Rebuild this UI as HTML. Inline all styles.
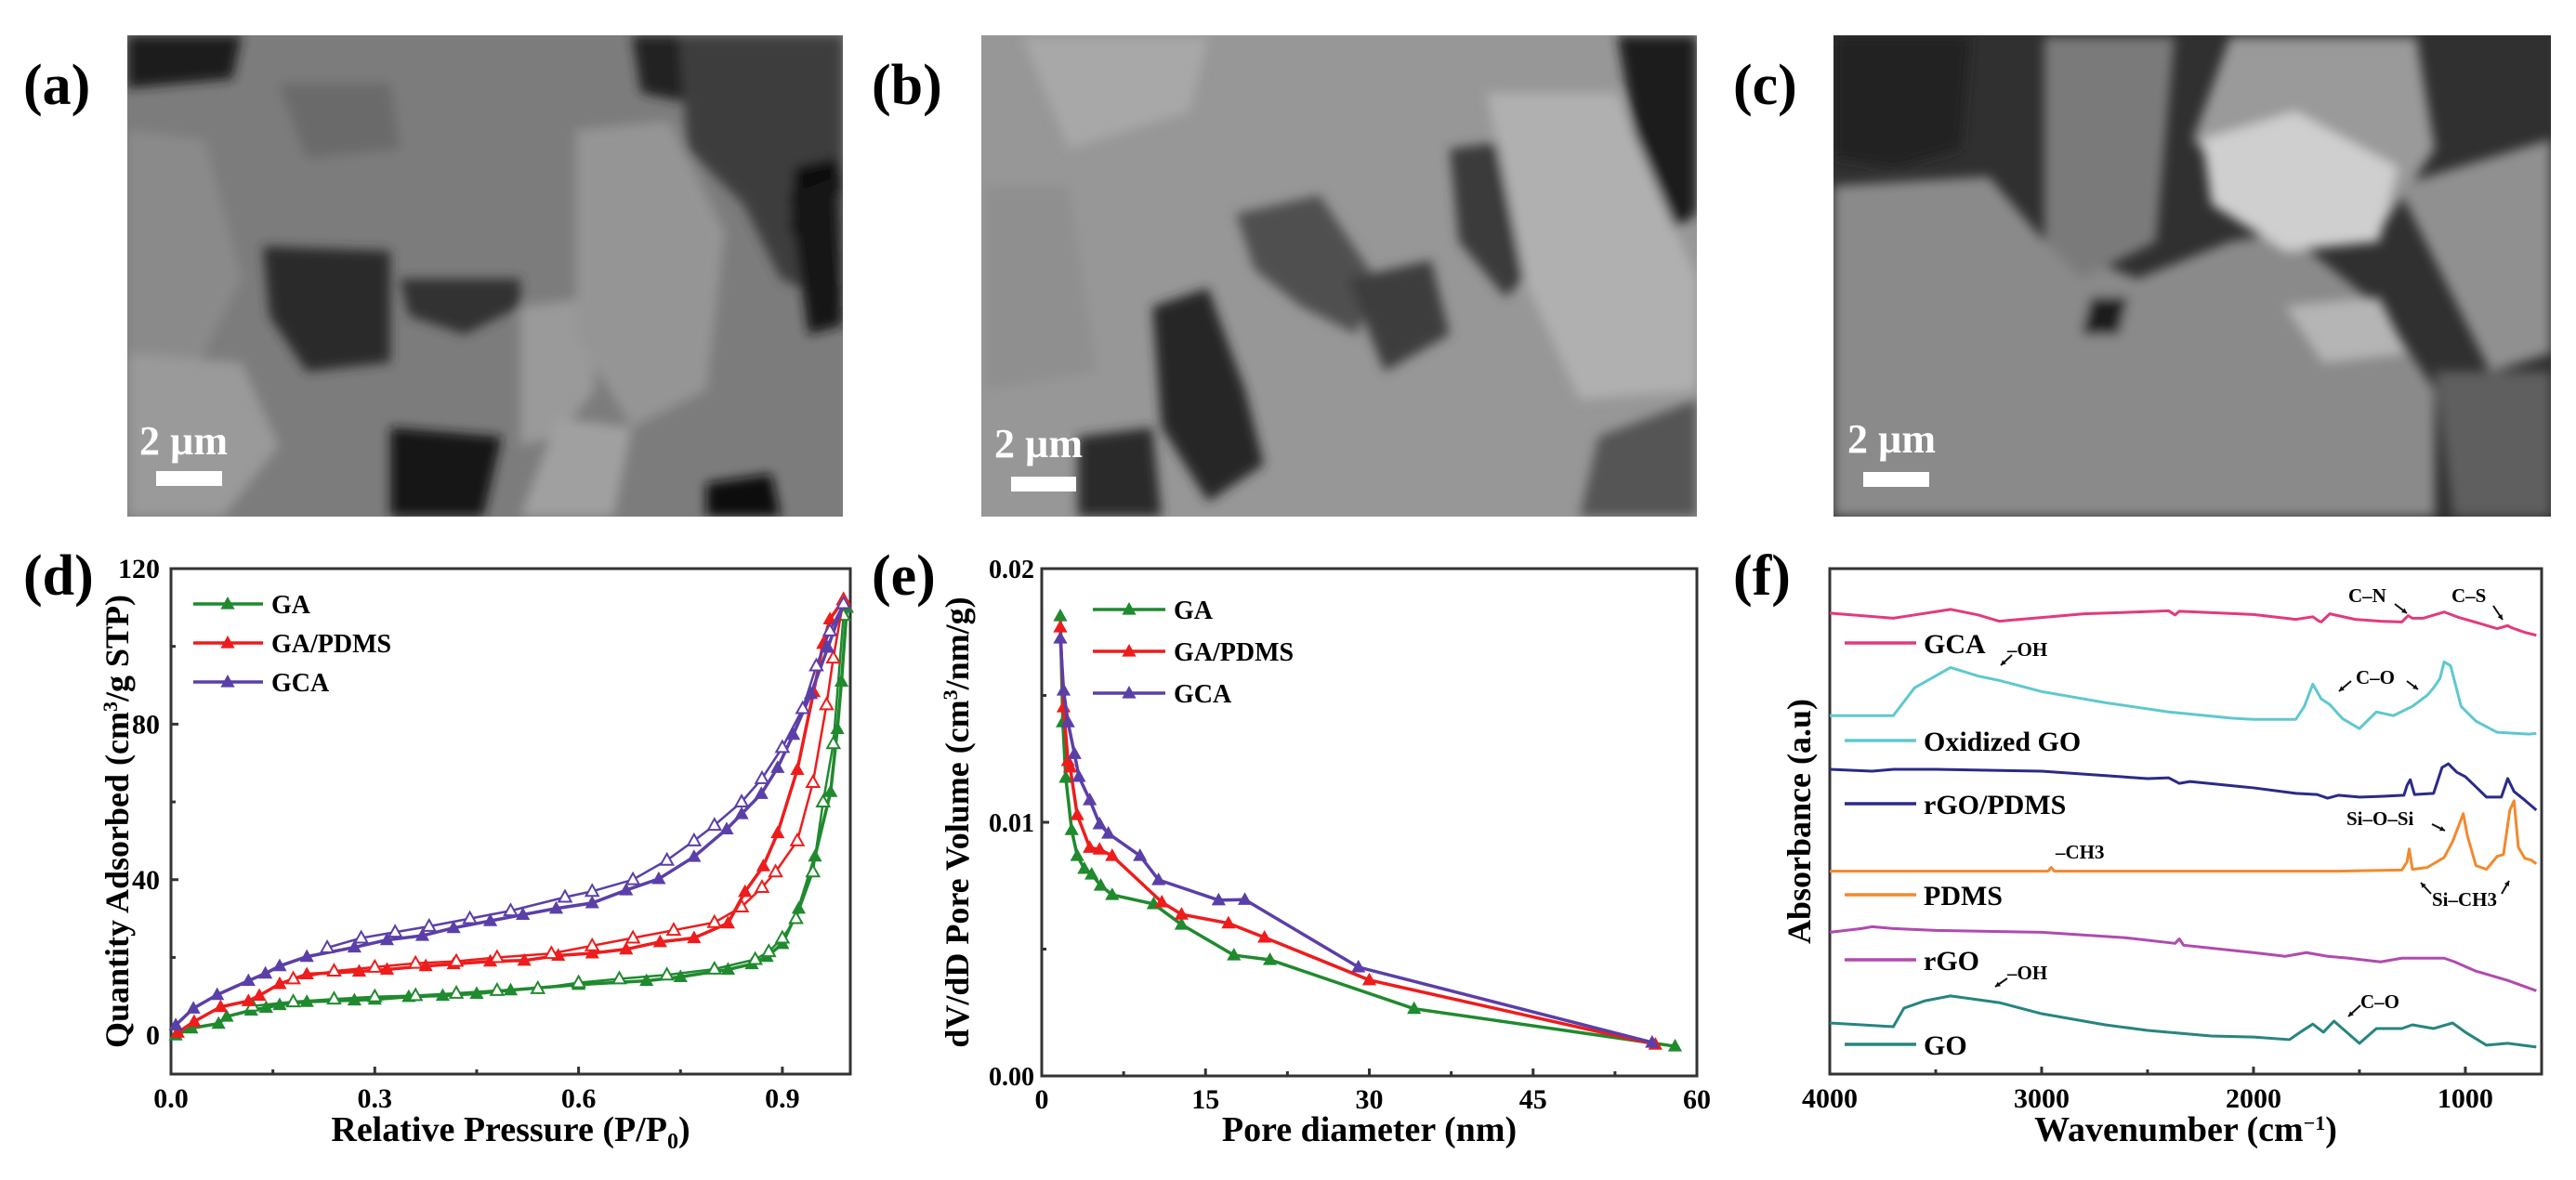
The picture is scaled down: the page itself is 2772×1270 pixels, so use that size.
<!DOCTYPE html>
<html><head><meta charset="utf-8">
<style>
html,body{margin:0;padding:0;background:#fff;}
body{width:2772px;height:1265px;overflow:hidden;position:relative;font-family:"Liberation Serif",serif;}
svg text{font-family:"Liberation Serif",serif;font-weight:bold;}
</style></head>
<body>
<svg id="fig" width="2772" height="1265" viewBox="0 0 2772 1265" xmlns="http://www.w3.org/2000/svg">
<defs>
  <filter id="soft" x="-5%" y="-5%" width="110%" height="110%"><feGaussianBlur stdDeviation="6"/></filter>
  <clipPath id="clipA"><rect x="137" y="38" width="770" height="518"/></clipPath>
  <clipPath id="clipB"><rect x="1056" y="38" width="770" height="518"/></clipPath>
  <clipPath id="clipC"><rect x="1973" y="38" width="772" height="518"/></clipPath>
</defs>

<text x="25" y="112" font-size="62">(a)</text>
<text x="938" y="112" font-size="62">(b)</text>
<text x="1865" y="112" font-size="62">(c)</text>
<text x="25" y="640" font-size="62">(d)</text>
<text x="938" y="640" font-size="62">(e)</text>
<text x="1865" y="640" font-size="62">(f)</text>

<g clip-path="url(#clipA)">
  <rect x="137" y="38" width="770" height="518" fill="#7c7c7c"/>
  <g filter="url(#soft)">
    <polygon points="137,38 260,38 250,85 137,95" fill="#1a1a1a"/>
    <polygon points="680,38 760,38 740,110 690,100" fill="#222"/>
    <polygon points="730,38 907,38 907,330 840,300 800,220 740,160" fill="#3c3c3c"/>
    <polygon points="855,180 900,170 907,200 880,260 850,250" fill="#111"/>
    <polygon points="849,210 900,190 907,350 870,360" fill="#151515"/>
    <polygon points="283,265 420,270 420,390 330,400 290,340" fill="#2c2c2c"/>
    <polygon points="430,300 560,300 560,330 500,360 440,340" fill="#333"/>
    <polygon points="560,330 640,320 640,420 600,470 560,480" fill="#9a9a9a"/>
    <polygon points="600,450 680,460 660,556 560,556" fill="#a0a0a0"/>
    <polygon points="420,460 540,470 520,556 420,556" fill="#161616"/>
    <polygon points="760,520 830,510 840,556 760,556" fill="#111"/>
    <polygon points="137,140 220,150 260,300 200,420 137,400" fill="#8a8a8a"/>
    <polygon points="137,380 260,390 300,480 240,556 137,556" fill="#9a9a9a"/>
    <polygon points="620,140 720,130 780,250 760,420 680,460 620,360" fill="#959595"/>
    <polygon points="300,90 420,90 430,160 330,170" fill="#6a6a6a"/>
  </g>
  <rect x="168" y="507" width="71" height="16" fill="#fff"/>
  <text x="150" y="489" font-size="44" fill="#fff">2 µm</text>
</g>

<g clip-path="url(#clipB)">
  <rect x="1056" y="38" width="770" height="518" fill="#979797"/>
  <g filter="url(#soft)">
    <polygon points="1740,38 1826,38 1826,230 1780,260 1760,150" fill="#1e1e1e"/>
    <polygon points="1240,330 1300,310 1340,420 1360,500 1300,540 1250,460" fill="#262626"/>
    <polygon points="1330,230 1420,210 1480,300 1460,360 1400,330 1350,290" fill="#505050"/>
    <polygon points="1450,300 1540,280 1560,360 1490,400" fill="#3e3e3e"/>
    <polygon points="1560,160 1640,150 1680,260 1620,320 1570,260" fill="#3a3a3a"/>
    <polygon points="1160,470 1240,460 1250,556 1160,556" fill="#2a2a2a"/>
    <polygon points="1720,470 1826,430 1826,556 1700,556" fill="#555"/>
    <polygon points="1100,40 1300,40 1280,120 1150,160" fill="#a8a8a8"/>
    <polygon points="1600,100 1740,100 1826,300 1826,420 1700,430 1640,300" fill="#b0b0b0"/>
    <polygon points="1060,200 1150,200 1180,400 1060,420" fill="#8f8f8f"/>
  </g>
  <rect x="1088" y="513" width="70" height="16" fill="#fff"/>
  <text x="1070" y="492" font-size="44" fill="#fff">2 µm</text>
</g>

<g clip-path="url(#clipC)">
  <rect x="1973" y="38" width="772" height="518" fill="#303030"/>
  <g filter="url(#soft)">
    <polygon points="1973,200 2140,190 2200,260 2300,300 2400,260 2460,250 2560,330 2620,420 2620,556 1973,556" fill="#8a8a8a"/>
    <polygon points="2200,40 2340,40 2320,260 2240,300 2200,260" fill="#7a7a7a"/>
    <polygon points="2400,40 2600,40 2620,160 2560,250 2480,240 2400,200 2360,150" fill="#9a9a9a"/>
    <polygon points="2370,150 2470,120 2580,180 2560,260 2460,270 2380,220" fill="#cfcfcf"/>
    <polygon points="2580,200 2745,150 2745,380 2680,400 2640,320" fill="#909090"/>
    <polygon points="2460,330 2560,320 2590,380 2500,390" fill="#b5b5b5"/>
    <polygon points="2620,400 2745,400 2745,556 2640,556" fill="#5e5e5e"/>
    <polygon points="2250,320 2290,320 2280,360 2240,360" fill="#1a1a1a"/>
    <polygon points="1973,40 2120,40 2110,160 2040,180 1973,170" fill="#222"/>
  </g>
  <rect x="2005" y="508" width="71" height="16" fill="#fff"/>
  <text x="1988" y="487" font-size="44" fill="#fff">2 µm</text>
</g>

<g id="chartD"></g>
<g id="chartE"></g>
<g id="chartF"></g>
</svg>

<script>
const dGA_adsX = [0.007,0.03,0.07,0.082,0.118,0.14,0.16,0.2,0.27,0.3,0.35,0.4,0.45,0.5,0.6,0.7,0.75,0.82,0.855,0.877,0.9,0.924,0.948,0.971,0.981,0.987,0.995];
const dGA_adsY = [0,1.8,3,4.8,6.4,7.1,7.8,8.6,9,9.2,9.9,10.2,10.7,11.6,13,14,15,16.9,18.3,20.2,23.5,32.6,46,62.6,78.8,91,110];
const dGA_desX = [0.99,0.975,0.96,0.945,0.92,0.9,0.88,0.86,0.8,0.73,0.66,0.6,0.54,0.48,0.42,0.36,0.3,0.24,0.18,0.12];
const dGA_desY = [108,75,60,42,30,25,21.5,19.5,17,15.5,14.5,13.5,12,11.5,10.8,10.2,9.9,9.3,8.6,7.5];
const dPD_adsX = [0.01,0.034,0.073,0.114,0.13,0.16,0.2,0.277,0.318,0.375,0.416,0.47,0.52,0.57,0.62,0.67,0.72,0.77,0.82,0.845,0.872,0.893,0.922,0.946,0.96,0.97,0.99];
const dPD_adsY = [0.7,3.5,7.3,8.8,10.2,13.2,15.7,16.4,16.9,17.8,18.3,19,19.2,20.5,21.1,22.1,24,25,28.8,36.9,43.5,52,68.3,88.3,100.7,107,112];
const dPD_desX = [0.99,0.975,0.965,0.945,0.922,0.89,0.87,0.84,0.8,0.74,0.68,0.62,0.56,0.48,0.42,0.36,0.3,0.24,0.18];
const dPD_desY = [112,97,85,65,50,42,38,33,29,27,25,23,21,20,19,18.5,17.5,16.5,14.5];
const dGC_adsX = [0.007,0.033,0.068,0.114,0.139,0.16,0.2,0.27,0.318,0.37,0.416,0.47,0.518,0.567,0.62,0.67,0.718,0.77,0.818,0.84,0.869,0.893,0.916,0.942,0.967,0.99];
const dGC_adsY = [2.6,6.9,10.4,14,15.9,17.8,20.2,22.6,24.5,25.6,27.6,29.4,31,32.6,34,37.3,40.2,45.9,53,56.9,62.1,68.8,77.3,87.8,99.7,111];
const dGC_desX = [0.99,0.97,0.95,0.93,0.9,0.87,0.84,0.8,0.77,0.73,0.68,0.62,0.58,0.5,0.44,0.38,0.33,0.28,0.23];
const dGC_desY = [111,104,95,84,74,66,60,54,50,45,40,37,35.5,32,30,28,26.5,25,22.5];
const dXTicks = [0,0.3,0.6,0.9];
const dXTickLabels = ["0.0","0.3","0.6","0.9"];
const dYTicks = [0,40,80,120];
const dYTickLabels = ["0","40","80","120"];

const eGA_X = [1.7,1.93,2.2,2.74,3.25,3.9,4.57,5.4,6.45,10.25,12.8,17.6,20.9,34.1,58];
const eGA_Y = [0.01813,0.01395,0.01176,0.0097,0.00868,0.00817,0.00795,0.00751,0.00714,0.00678,0.00597,0.00476,0.00458,0.00265,0.00117];
const ePD_X = [1.7,2.0,2.4,2.6,3.25,4.4,5.3,6.45,11,12.8,17.1,20.4,30,56.2];
const ePD_Y = [0.01769,0.01454,0.01242,0.01217,0.01029,0.009,0.00893,0.00868,0.00685,0.00637,0.00602,0.00546,0.00378,0.00124];
const eGC_X = [1.7,2.0,2.4,3.0,3.4,4.4,5.3,6.1,9.0,10.7,16.2,18.6,29,55.9];
const eGC_Y = [0.01725,0.0152,0.01395,0.0127,0.0118,0.01088,0.00993,0.00956,0.00868,0.00773,0.00693,0.00695,0.00429,0.00132];
const eXTicks = [0,15,30,45,60];
const eXTickLabels = ["0","15","30","45","60"];
const eYTicks = [0,0.01,0.02];
const eYTickLabels = ["0.00","0.01","0.02"];

const fGCA_W = [4000,3700,3600,3430,3300,3200,3000,2800,2400,2370,2350,2000,1800,1720,1690,1680,1640,1560,1520,1400,1300,1270,1250,1200,1100,1030,950,850,800,780,720,665];
const fGCA_A = [1245,1231,1240,1255,1240,1223,1233,1243,1251,1240,1250,1241,1228,1235,1223,1221,1243,1233,1228,1223,1221,1238,1231,1231,1248,1233,1220,1203,1211,1205,1193,1185];
const fOX_W = [4000,3700,3600,3430,3300,3200,3000,2700,2400,2100,2000,1800,1760,1720,1680,1640,1580,1500,1420,1340,1250,1180,1150,1120,1100,1070,1020,950,850,700,665];
const fOX_A = [968,968,1043,1098,1075,1063,1033,1003,978,961,958,958,993,1053,1013,998,960,933,978,968,993,1023,1043,1068,1113,1103,993,953,923,918,920];
const fRP_W = [4000,3800,3700,3500,3000,2500,2400,2350,2300,2000,1800,1700,1650,1600,1500,1400,1290,1275,1260,1240,1150,1110,1080,1040,1000,900,830,800,770,720,665];
const fRP_A = [823,818,823,823,818,798,800,785,790,773,758,755,745,753,748,750,753,780,795,755,758,828,838,815,803,748,748,798,763,740,713];
const fPD_W = [4000,3000,2970,2955,2940,2500,2000,1600,1300,1275,1265,1250,1180,1100,1060,1030,1010,990,950,900,850,820,790,770,750,720,690,665];
const fPD_A = [548,548,548,558,548,548,548,548,551,573,608,553,558,585,628,673,703,643,563,553,588,593,713,738,613,583,578,568];
const fRG_W = [4000,3850,3800,3700,3500,3000,2600,2370,2350,2330,2000,1850,1750,1650,1550,1400,1300,1100,1050,950,800,665];
const fRG_A = [383,393,398,393,388,383,368,353,365,348,328,318,328,318,313,303,313,313,303,278,253,225];
const fGO_W = [4000,3700,3650,3550,3430,3200,3000,2700,2500,2200,2000,1830,1780,1720,1670,1620,1580,1500,1420,1300,1250,1150,1060,1000,900,800,665];
const fGO_A = [138,128,178,198,211,193,163,133,118,103,100,93,113,135,113,143,123,83,123,123,133,123,138,113,78,83,73];
const fXTicks = [4000,3000,2000,1000];
const fXTickLabels = ["4000","3000","2000","1000"];

const NS = "http://www.w3.org/2000/svg";
function mk(parent, tag, attrs, text){
  const e = document.createElementNS(NS, tag);
  for (const k in attrs) e.setAttribute(k, attrs[k]);
  if (text !== undefined) e.textContent = text;
  parent.appendChild(e);
  return e;
}
function tri(cx, cy, s){ return (cx)+","+(cy-s)+" "+(cx-s*0.95)+","+(cy+s*0.7)+" "+(cx+s*0.95)+","+(cy+s*0.7); }
function frame(g, L, T, R, B){
  const f = mk(g, "rect", {x:L, y:T, width:R-L, height:B-T, fill:"none", stroke:"#333", "stroke-width":3});
  
  
}

(function(){
  const g = document.getElementById("chartD");
  const L=184, R=915, T=612, B=1156;
  const xs = v => L + (v-0)/(1.0-0)*(R-L);
  const ys = v => B - (v-(-10))/(120-(-10))*(B-T);
  frame(g,L,T,R,B);
  dXTicks.forEach((t,i)=>{
    const l = mk(g,"line",{x1:xs(t),x2:xs(t),y1:B,y2:B-8,stroke:"#333","stroke-width":3});
    
    
    const tx = mk(g,"text",{x:xs(t),y:1192,"font-size":30,"text-anchor":"middle"},dXTickLabels[i]);
    
    
    if (t+0.15 < 1.0) {
      const m = mk(g,"line",{x1:xs(t+0.15),x2:xs(t+0.15),y1:B,y2:B-5,stroke:"#333","stroke-width":3});
      
      
    }
  });
  dYTicks.forEach((t,i)=>{
    const l = mk(g,"line",{x1:L,x2:L+8,y1:ys(t),y2:ys(t),stroke:"#333","stroke-width":3});
    
    
    const tx = mk(g,"text",{x:L-12,y:ys(t)+10,"font-size":30,"text-anchor":"end"},dYTickLabels[i]);
    
    
    if (t < 120) {
      const m = mk(g,"line",{x1:L,x2:L+5,y1:ys(t+20),y2:ys(t+20),stroke:"#333","stroke-width":3});
      
      
    }
  });
  const xt = mk(g,"text",{x:(L+R)/2,y:1228,"font-size":38,"text-anchor":"middle"});
  
  
  xt.innerHTML = 'Relative Pressure (P/P<tspan font-size="24" dy="8">0</tspan><tspan dy="-8">)</tspan>';
  const yt = mk(g,"text",{x:0,y:0,"font-size":36,"text-anchor":"middle",transform:"translate(138,"+((T+B)/2)+") rotate(-90)"});
  
  
  yt.innerHTML = 'Quantity Adsorbed (cm<tspan font-size="22" dy="-12">3</tspan><tspan dy="12">/g STP)</tspan>';

  const series = [
    {name:"GA", color:"#1f8a2e", ax:dGA_adsX, ay:dGA_adsY, dx:dGA_desX, dy:dGA_desY},
    {name:"GA/PDMS", color:"#ee1c1c", ax:dPD_adsX, ay:dPD_adsY, dx:dPD_desX, dy:dPD_desY},
    {name:"GCA", color:"#5b3fa8", ax:dGC_adsX, ay:dGC_adsY, dx:dGC_desX, dy:dGC_desY}
  ];
  series.forEach((s,si)=>{
    const sg = mk(g,"g",{});
    
    
    const pa = mk(sg,"polyline",{points:s.ax.map((v,i)=>xs(v)+","+ys(s.ay[i])).join(" "),fill:"none",stroke:s.color,"stroke-width":3.5});
    
    
    const pd = mk(sg,"polyline",{points:s.dx.map((v,i)=>xs(v)+","+ys(s.dy[i])).join(" "),fill:"none",stroke:s.color,"stroke-width":2.5});
    
    
    s.ax.forEach((v,i)=>{
      const p = mk(sg,"polygon",{points:tri(xs(v),ys(s.ay[i]),8),fill:s.color});
      
      
    });
    s.dx.forEach((v,i)=>{
      const p = mk(sg,"polygon",{points:tri(xs(v),ys(s.dy[i]),7),fill:"#fff",stroke:s.color,"stroke-width":2});
      
      
    });
    const ly = 650 + si*42;
    const lg = mk(g,"g",{});
    
    
    mk(lg,"line",{x1:208,x2:283,y1:ly,y2:ly,stroke:s.color,"stroke-width":3.5});
    mk(lg,"polygon",{points:tri(245,ly,8),fill:s.color});
    mk(lg,"text",{x:292,y:ly+10,"font-size":28},s.name);
  });
})();

(function(){
  const g = document.getElementById("chartE");
  const L=1121, R=1826, T=612, B=1158;
  const xs = v => L + v/60*(R-L);
  const ys = v => B - v/0.02*(B-T);
  frame(g,L,T,R,B);
  eXTicks.forEach((t,i)=>{
    const l = mk(g,"line",{x1:xs(t),x2:xs(t),y1:B,y2:B-8,stroke:"#333","stroke-width":3});
    
    
    const tx = mk(g,"text",{x:xs(t),y:1193,"font-size":30,"text-anchor":"middle"},eXTickLabels[i]);
    
    
    if (t<60){
      const m = mk(g,"line",{x1:xs(t+7.5),x2:xs(t+7.5),y1:B,y2:B-5,stroke:"#333","stroke-width":3});
      
      
    }
  });
  eYTicks.forEach((t,i)=>{
    const l = mk(g,"line",{x1:L,x2:L+8,y1:ys(t),y2:ys(t),stroke:"#333","stroke-width":3});
    
    
    const tx = mk(g,"text",{x:L-8,y:ys(t)+10,"font-size":28,"text-anchor":"end"},eYTickLabels[i]);
    
    
    if (t<0.02){
      const m = mk(g,"line",{x1:L,x2:L+5,y1:ys(t+0.005),y2:ys(t+0.005),stroke:"#333","stroke-width":3});
      
      
    }
  });
  const xt = mk(g,"text",{x:(L+R)/2,y:1228,"font-size":38,"text-anchor":"middle"},"Pore diameter (nm)");
  
  
  const yt = mk(g,"text",{x:0,y:0,"font-size":36,"text-anchor":"middle",transform:"translate(1042,"+((T+B)/2)+") rotate(-90)"});
  
  
  yt.innerHTML = 'dV/dD Pore Volume (cm<tspan font-size="22" dy="-12">3</tspan><tspan dy="12">/nm/g)</tspan>';
  const series = [
    {name:"GA", color:"#1f8a2e", x:eGA_X, y:eGA_Y},
    {name:"GA/PDMS", color:"#ee1c1c", x:ePD_X, y:ePD_Y},
    {name:"GCA", color:"#5b3fa8", x:eGC_X, y:eGC_Y}
  ];
  series.forEach((s,si)=>{
    const sg = mk(g,"g",{});
    
    
    const pl = mk(sg,"polyline",{points:s.x.map((v,i)=>xs(v)+","+ys(s.y[i])).join(" "),fill:"none",stroke:s.color,"stroke-width":3.5});
    
    
    s.x.forEach((v,i)=>{
      const p = mk(sg,"polygon",{points:tri(xs(v),ys(s.y[i]),8),fill:s.color});
      
      
    });
    const ly = 656 + si*45;
    const lg = mk(g,"g",{});
    
    
    mk(lg,"line",{x1:1176,x2:1254,y1:ly,y2:ly,stroke:s.color,"stroke-width":3.5});
    mk(lg,"polygon",{points:tri(1215,ly,8),fill:s.color});
    mk(lg,"text",{x:1263,y:ly+10,"font-size":28},s.name);
  });
})();

(function(){
  const g = document.getElementById("chartF");
  const L=1969, R=2735, T=612, B=1156;
  const xs = v => L + (4000-v)/(4000-640)*(R-L);
  const ys = v => B - v/1365*(B-T);
  frame(g,L,T,R,B);
  fXTicks.forEach((t,i)=>{
    const l = mk(g,"line",{x1:xs(t),x2:xs(t),y1:B,y2:B-8,stroke:"#333","stroke-width":3});
    
    
    const tx = mk(g,"text",{x:xs(t),y:1192,"font-size":30,"text-anchor":"middle"},fXTickLabels[i]);
    
    
    if (t>1000){
      const m = mk(g,"line",{x1:xs(t-500),x2:xs(t-500),y1:B,y2:B-5,stroke:"#333","stroke-width":3});
      
      
    }
  });
  const xt = mk(g,"text",{x:(L+R)/2,y:1228,"font-size":38,"text-anchor":"middle"});
  
  
  xt.innerHTML = 'Wavenumber (cm<tspan font-size="22" dy="-12">−1</tspan><tspan dy="12">)</tspan>';
  const yt = mk(g,"text",{x:0,y:0,"font-size":36,"text-anchor":"middle",transform:"translate(1948,"+((T+B)/2)+") rotate(-90)"},"Absorbance (a.u)");
  
  
  const series = [
    {name:"GCA", color:"#e23a7e", w:fGCA_W, a:fGCA_A, ly:692},
    {name:"Oxidized GO", color:"#5fc8cf", w:fOX_W, a:fOX_A, ly:797},
    {name:"rGO/PDMS", color:"#2a2a8a", w:fRP_W, a:fRP_A, ly:865},
    {name:"PDMS", color:"#f2892e", w:fPD_W, a:fPD_A, ly:963},
    {name:"rGO", color:"#b04ab0", w:fRG_W, a:fRG_A, ly:1033},
    {name:"GO", color:"#26857f", w:fGO_W, a:fGO_A, ly:1124}
  ];
  series.forEach(s=>{
    const pl = mk(g,"polyline",{points:s.w.map((v,i)=>xs(v)+","+ys(s.a[i])).join(" "),fill:"none",stroke:s.color,"stroke-width":3,"stroke-linejoin":"round"});
    
    
    const lg = mk(g,"g",{});
    
    
    mk(lg,"line",{x1:1985,x2:2062,y1:s.ly,y2:s.ly,stroke:s.color,"stroke-width":3.5});
    mk(lg,"text",{x:2070,y:s.ly+11,"font-size":30},s.name);
  });
  const ann = [
    ["C–N",2527,648],["C–S",2638,648],["–OH",2160,706],["C–O",2535,736],
    ["–CH3",2212,924],["Si–O–Si",2525,888],["Si–CH3",2617,975],["–OH",2160,1054],["C–O",2540,1085]
  ];
  ann.forEach(a=>{
    const t = mk(g,"text",{x:a[1],y:a[2],"font-size":21},a[0]);
    
    
  });
  const arrows = [
    [2577,650,2590,660],[2683,652,2693,667],[2165,705,2153,716],[2530,733,2517,744],
    [2590,733,2602,742],[2617,887,2631,894],[2616,962,2605,950],[2692,962,2700,948],
    [2160,1053,2147,1062],[2540,1082,2527,1094]
  ];
  arrows.forEach(a=>{
    const gA = mk(g,"g",{});
    
    
    mk(gA,"line",{x1:a[0],y1:a[1],x2:a[2],y2:a[3],stroke:"#111","stroke-width":2});
    const ang = Math.atan2(a[3]-a[1],a[2]-a[0]);
    const hx = a[2], hy = a[3], s = 6;
    mk(gA,"polygon",{points:hx+","+hy+" "+(hx-s*Math.cos(ang-0.5))+","+(hy-s*Math.sin(ang-0.5))+" "+(hx-s*Math.cos(ang+0.5))+","+(hy-s*Math.sin(ang+0.5)),fill:"#111"});
  });
})();
</script>
</body></html>
